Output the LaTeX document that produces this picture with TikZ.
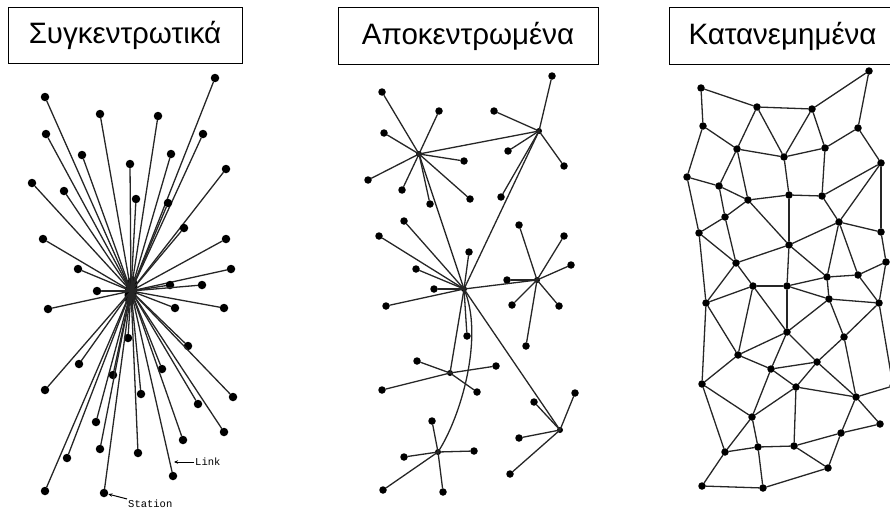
\documentclass[tikz,border=0pt]{standalone}
\usepackage{fontspec}
\setmainfont{Liberation Sans}
\newfontfamily\letterfont{Liberation Mono}
\usetikzlibrary{shapes.geometric,arrows.meta}

\tikzset{
  x=1pt, y=-1pt,
  titlebox/.style={draw=black, line width=1pt, inner sep=0pt,
    minimum height=56pt, font=\fontsize{29.5}{31}\selectfont},
  link/.style={draw=black!85, line width=1.3pt, line cap=round},
  bigdot/.style={circle, fill=black, inner sep=0pt, minimum size=8.5pt},
  dot/.style={circle, fill=black, inner sep=0pt, minimum size=7.5pt},
  hubdot/.style={circle, fill=black, inner sep=0pt, minimum size=6pt},
  tag/.style={font=\letterfont\fontsize{10.5}{11}\selectfont, inner sep=1pt},
  tagarrow/.style={draw=black, line width=1pt, -{Stealth[length=4pt,width=3.5pt]}}
}

\begin{document}
\begin{tikzpicture}
\useasboundingbox (0,0) rectangle (890,511);
\clip (0,0) rectangle (890,511);

% ---------- headings ----------
\node[titlebox, minimum width=234pt] (t1) at (125,35.5) {Συγκεντρωτικά};
\node[titlebox, minimum width=260pt] (t2) at (468,36) {Αποκεντρωμένα};
\node[titlebox, minimum width=227pt] (t3) at (782.5,36) {Κατανεμημένα};

% ---------- centralized: one hub, every station wired to it ----------
\node[ellipse, fill=black, inner sep=0pt, minimum width=12pt, minimum height=30pt,
      rotate=-8] (hub) at (131,291) {};
\foreach \i/\x/\y in {
  1/215/78, 2/45/97, 3/100/114, 4/158/116, 5/46/134, 6/203/134, 7/82/155,
  8/171/154, 9/130/164, 10/226/169, 11/32/183, 12/64/191, 13/136/199,
  14/168/203, 15/184/228, 16/43/239, 17/226/239, 18/78/269, 19/231/269,
  20/170/285, 21/202/285, 22/97/291, 23/48/309, 24/175/308, 25/224/308,
  26/128/338, 27/188/346, 28/79/364, 29/113/375, 30/162/369, 31/45/390,
  32/141/394, 33/233/397, 34/198/404, 35/96/422, 36/224/432, 37/183/440,
  38/100/449, 39/138/453, 40/67/458, 41/173/476, 42/45/491, 43/104/493}
{
  \node[bigdot] (c\i) at (\x,\y) {};
  \draw[link] (hub.center) -- (c\i);
}

% labels for a link and a station
\node[tag, anchor=west] (lk) at (194,462) {Link};
\coordinate (lkpt) at (174,462);
\draw[tagarrow] (lk.west) -- (lkpt);
\node[tag, anchor=west] (st) at (127,504) {Station};
\draw[tagarrow] (st.north west) -- (c43);

% ---------- decentralized: hubs of local stars ----------
\foreach \n/\x/\y in {hA/419/154, hB/539/131, hC/464/289, hD/537/280,
                      hE/450/373, hF/560/430, hG/438/452}
  \node[hubdot] (\n) at (\x,\y) {};

\foreach \n/\x/\y/\h in {
  a1/382/92/hA, a2/439/111/hA, a3/384/133/hA, a4/464/161/hA, a5/368/180/hA,
  a6/402/190/hA, a7/430/204/hA, a8/470/199/hA,
  b0/552/76/hB, b1/494/111/hB, b2/508/151/hB, b3/564/166/hB, b4/501/197/hB,
  k1/404/221/hC, k2/379/236/hC, k3/469/252/hC, k4/416/269/hC, k5/434/289/hC,
  k6/386/306/hC, k7/467/336/hC,
  d1/519/225/hD, d2/564/236/hD, d3/507/280/hD, d4/571/265/hD, d5/512/305/hD,
  d6/559/306/hD, d7/526/346/hD,
  e1/417/361/hE, e2/496/366/hE, e3/382/390/hE, e4/477/392/hE,
  f1/534/402/hF, f2/575/393/hF, f3/519/438/hF, f4/510/474/hF,
  g1/432/421/hG, g2/404/457/hG, g3/474/451/hG, g4/383/490/hG, g5/443/492/hG}
{
  \node[dot] (\n) at (\x,\y) {};
  \draw[link] (\h.center) -- (\n);
}

\foreach \a/\b in {hA/hB, hA/hC, hB/hC, hC/hD, hC/hE, hC/hF}
  \draw[link] (\a.center) -- (\b.center);
\draw[link] (hG.center) .. controls (462,415) and (484,335) .. (hC.center);

% ---------- distributed: a mesh ----------
\foreach \n/\x/\y in {
  A1/701/88, A2/757/107, A3/812/109, A4/869/71, B1/703/126, B2/858/128,
  C1/737/149, C2/784/157, C3/825/148, C4/881/163, D1/687/177, D2/719/186,
  D3/748/200, D4/789/195, D5/822/196, E1/725/217, E2/839/222, F1/699/233,
  F2/881/232, G1/789/245, G2/886/262, H1/736/263, H2/827/277, H3/858/275,
  I1/753/286, I2/787/286, J1/706/303, J3/829/299, J4/879/303, K2/787/332,
  K3/844/337, L1/738/355, L2/771/369, L3/817/362, M1/702/384, M2/796/387,
  M3/856/397, X/893/386, N1/752/417, N2/841/433, N3/880/424, O0/725/452,
  O1/758/447, O2/794/446, P2/828/468, Q1/702/486, Q2/763/488}
  \node[dot] (n\n) at (\x,\y) {};

\foreach \a/\b in {
  A1/A2, A1/B1, A2/A3, A3/A4, A2/C1, A2/C2, A3/C2, A3/C3, A4/B2, B1/C1,
  B1/D1, C1/C2, C2/C3, C3/B2, B2/C4, C1/D2, C1/D3, C2/D4, C3/D5, D1/D2,
  D1/F1, D2/D3, D2/E1, D3/D4, D4/D5, D5/C4, D4/G1, D3/E1, D3/G1, D5/E2,
  C4/E2, C4/F2, E1/F1, E1/H1, F1/J1, F1/H1, E2/F2, E2/G1, E2/H2, E2/H3,
  F2/G2, G1/H1, G1/I2, G1/H2, H1/I1, H1/J1, H2/H3, H3/G2, I1/I2, I2/H2,
  I2/J3, H2/J3, J3/J4, H3/J4, G2/J4, J4/X, M3/X, J3/K2, K2/I2, K2/L3,
  K3/J3, K3/J4, K3/M3, K3/L3, L3/M3, L3/M2, L3/L2, M2/M3, M2/O2, M2/N1,
  M2/L2, M3/N2, M3/N3, N2/N3, N2/P2, O2/N2, O2/P2, P2/Q2, O2/O1, O1/O0,
  O1/N1, O1/Q2, O0/Q1, Q1/Q2, O0/M1, O0/N1, N1/M1, M1/L1, M1/J1, L1/J1,
  L1/I1, L1/K2, L1/L2, L2/K2, L2/N1, K2/I1, J1/I1}
  \draw[link] (n\a) -- (n\b);

\end{tikzpicture}
\end{document}
